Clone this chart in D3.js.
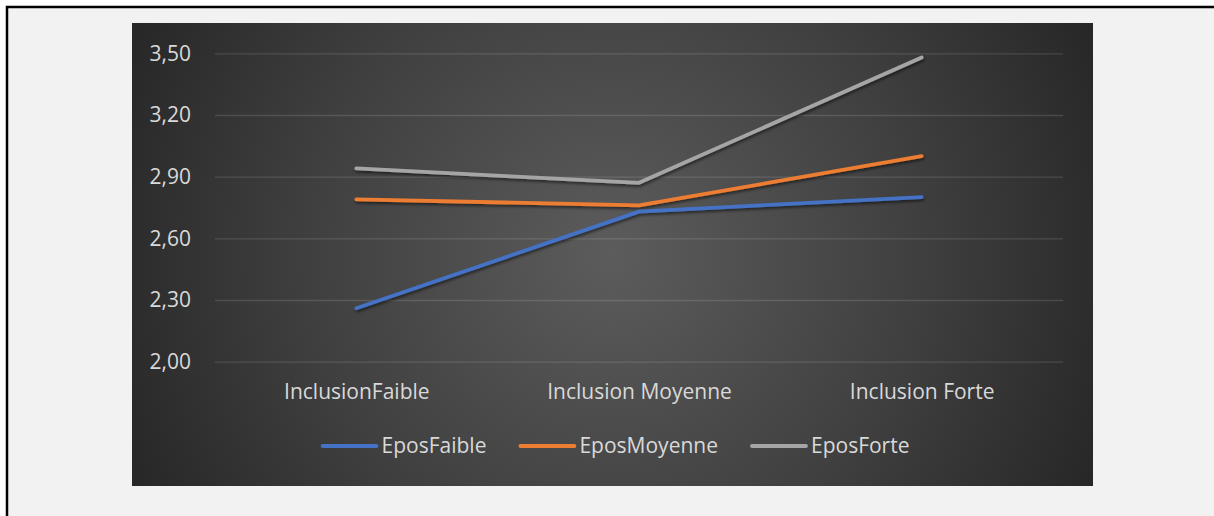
<!DOCTYPE html>
<html>
<head>
<meta charset="utf-8">
<script src="https://cdn.jsdelivr.net/npm/d3@7"></script>
<style>
  html, body { margin: 0; padding: 0; background: #ffffff; }
  svg { display: block; }
</style>
</head>
<body>
<svg id="chart" width="1214" height="516"></svg>
<script>
// ---- data ----
const categories = ["InclusionFaible", "Inclusion Moyenne", "Inclusion Forte"];
const seriesNames = ["EposFaible", "EposMoyenne", "EposForte"];
const eposFaible = [2.26, 2.73, 2.80];
const eposMoyenne = [2.79, 2.76, 3.00];
const eposForte = [2.94, 2.87, 3.48];
const yTicks = [2.00, 2.30, 2.60, 2.90, 3.20, 3.50];
const colors = ["#4472c4", "#ed7d31", "#a5a5a5"];

const seriesValues = [eposFaible, eposMoyenne, eposForte];

const svg = d3.select("#chart");
const FONT = "'Open Sans', 'Noto Sans', sans-serif";
const TXT = "#d9d9d9";
const FS = "21px";

// page background and frame
svg.append("rect").attr("x", 0).attr("y", 0).attr("width", 1214).attr("height", 516).attr("fill", "#ffffff");
svg.append("rect").attr("x", 7).attr("y", 7).attr("width", 1300).attr("height", 600)
  .attr("fill", "#f2f2f2").attr("stroke", "#000").attr("stroke-width", 2.5);

// chart area
const defs = svg.append("defs");
const grad = defs.append("radialGradient").attr("id", "bg")
  .attr("gradientUnits", "userSpaceOnUse")
  .attr("cx", 612).attr("cy", 255).attr("r", 560);
grad.append("stop").attr("offset", "0%").attr("stop-color", "#5c5c5c");
grad.append("stop").attr("offset", "55%").attr("stop-color", "#3f3f3f");
grad.append("stop").attr("offset", "100%").attr("stop-color", "#242424");

const shadow = defs.append("filter").attr("id", "sh").attr("x", "-10%").attr("y", "-10%").attr("width", "120%").attr("height", "130%");
shadow.append("feDropShadow").attr("dx", 0.8).attr("dy", 2).attr("stdDeviation", 1.6)
  .attr("flood-color", "#000").attr("flood-opacity", 0.55);

const area = { x: 132, y: 23, w: 961, h: 463 };
svg.append("rect").attr("x", area.x).attr("y", area.y).attr("width", area.w).attr("height", area.h)
  .attr("fill", "url(#bg)");

// scales
const x = d3.scalePoint().domain(categories).range([215, 1063]).padding(0.5);
const y = d3.scaleLinear().domain([2.0, 3.5]).range([361.7, 53.3]);

const locale = d3.formatLocale({ decimal: ",", thousands: " ", grouping: [3], currency: ["", " €"] });
const fmt = locale.format(".2f");

// gridlines + y labels via axis
const yAxis = d3.axisLeft(y).tickValues(yTicks).tickFormat(fmt).tickSize(-(1063 - 215)).tickPadding(24);
const gy = svg.append("g").attr("transform", "translate(215,0)").call(yAxis);
gy.select(".domain").remove();
gy.selectAll(".tick line").attr("stroke", "#ffffff").attr("stroke-opacity", 0.13).attr("stroke-width", 1.3);
gy.selectAll(".tick text").attr("fill", TXT).attr("font-family", FONT).attr("font-size", FS).attr("x", -24);

// x labels via axis
const xAxis = d3.axisBottom(x).tickSize(0).tickPadding(0);
const gx = svg.append("g").attr("transform", "translate(0,392)").call(xAxis);
gx.select(".domain").remove();
gx.selectAll(".tick text").attr("fill", TXT).attr("font-family", FONT).attr("font-size", FS)
  .attr("dy", "0.35em").attr("y", 0);

// lines
const line = d3.line().x((d, i) => x(categories[i])).y(d => y(d));
const gLines = svg.append("g").attr("filter", "url(#sh)");
seriesValues.forEach((vals, i) => {
  gLines.append("path").datum(vals).attr("d", line)
    .attr("fill", "none").attr("stroke", colors[i]).attr("stroke-width", 3.8)
    .attr("stroke-linecap", "round").attr("stroke-linejoin", "round");
});

// legend
const legY = 446;
const lineLen = 54, gap1 = 5, gap2 = 34;
const leg = svg.append("g");
const items = seriesNames.map((name, i) => {
  const g = leg.append("g");
  g.append("line").attr("x1", 0).attr("x2", lineLen).attr("y1", 0).attr("y2", 0)
    .attr("stroke", colors[i]).attr("stroke-width", 3.8).attr("stroke-linecap", "round");
  const t = g.append("text").attr("x", lineLen + gap1).attr("y", 0).attr("dy", "0.35em")
    .attr("fill", TXT).attr("font-family", FONT).attr("font-size", FS).text(name);
  return { g, w: lineLen + gap1 + t.node().getComputedTextLength() };
});
const total = d3.sum(items, d => d.w) + gap2 * (items.length - 1);
let cx = 616 - total / 2;
items.forEach(it => {
  it.g.attr("transform", `translate(${cx},${legY})`);
  cx += it.w + gap2;
});
</script>
</body>
</html>
